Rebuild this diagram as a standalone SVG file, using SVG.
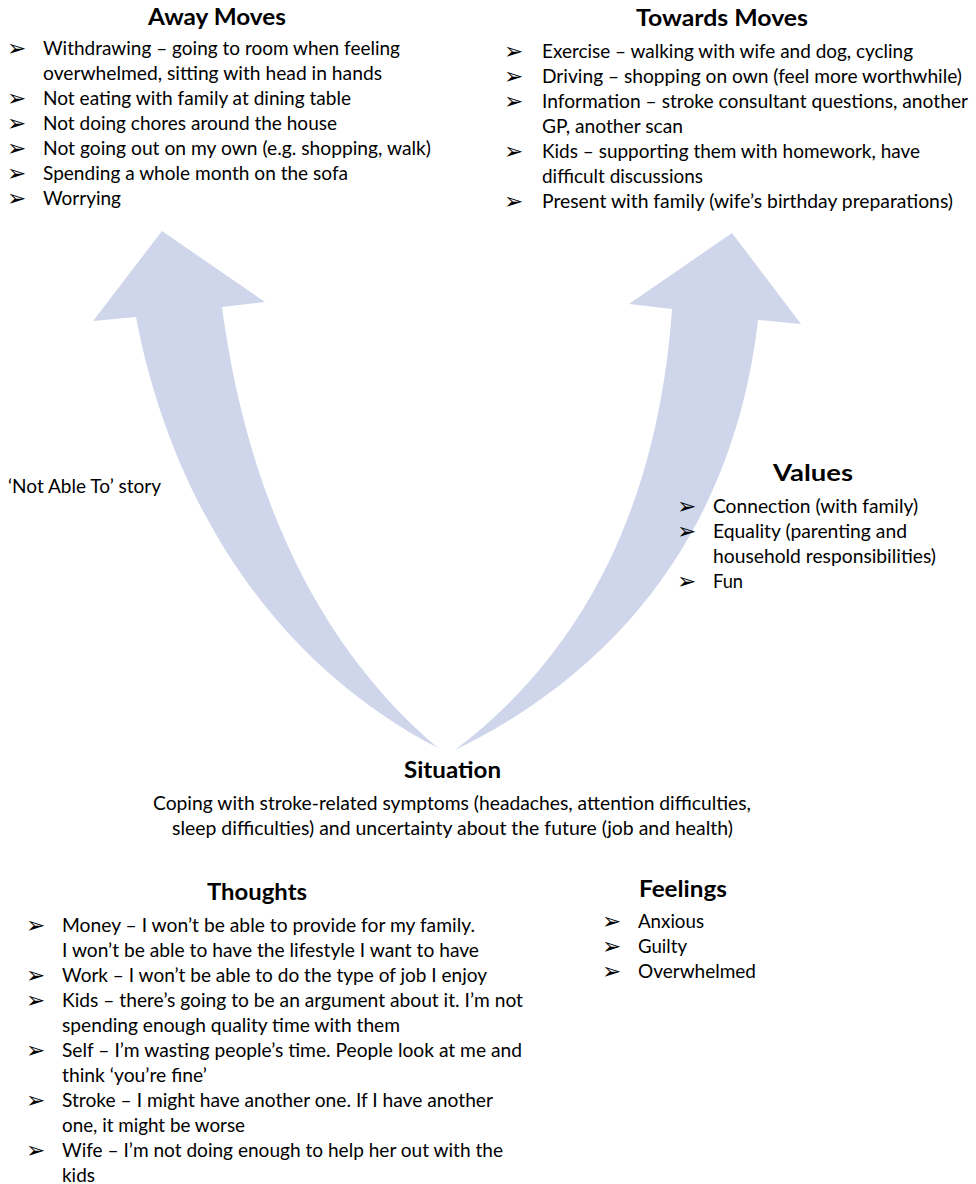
<svg xmlns="http://www.w3.org/2000/svg" width="976" height="1184" viewBox="0 0 976 1184">
<style>
.h{font-family:Lato,"Liberation Sans",sans-serif;font-weight:bold;font-size:22px;fill:#000}
.t{font-family:Lato,"Liberation Sans",sans-serif;font-size:19px;fill:#000}
.b{font-family:"DejaVu Sans",sans-serif;font-size:23px;fill:#000}
.arrow{fill:#cfd6eb;stroke:none}
</style>
<rect width="976" height="1184" fill="#fff"/>
<g id="connectors">
<path class="arrow" d="M438,748 C250,650 165,470 136,317 L93,321 L162,231 L265,302 L222,307 C245,480 310,640 438,748 Z"/>
<path class="arrow" d="M455,750 C660,650 740,480 758,320 L801,324 L732,233 L629,304 L672,309 C660,480 600,640 455,750 Z"/>
</g>
<g id="away-moves">
<text class="h" x="148" y="25" textLength="138" lengthAdjust="spacingAndGlyphs">Away Moves</text>
<text class="b" x="7" y="56">➢</text><text class="t" x="43" y="55" textLength="357" lengthAdjust="spacingAndGlyphs">Withdrawing – going to room when feeling</text>
<text class="t" x="43" y="80" textLength="339" lengthAdjust="spacingAndGlyphs">overwhelmed, sitting with head in hands</text>
<text class="b" x="7" y="106">➢</text><text class="t" x="43" y="105" textLength="308" lengthAdjust="spacingAndGlyphs">Not eating with family at dining table</text>
<text class="b" x="7" y="131">➢</text><text class="t" x="43" y="130" textLength="294" lengthAdjust="spacingAndGlyphs">Not doing chores around the house</text>
<text class="b" x="7" y="156">➢</text><text class="t" x="43" y="155" textLength="388" lengthAdjust="spacingAndGlyphs">Not going out on my own (e.g. shopping, walk)</text>
<text class="b" x="7" y="181">➢</text><text class="t" x="43" y="180" textLength="305" lengthAdjust="spacingAndGlyphs">Spending a whole month on the sofa</text>
<text class="b" x="7" y="206">➢</text><text class="t" x="43" y="205" textLength="78" lengthAdjust="spacingAndGlyphs">Worrying</text>
</g>
<g id="towards-moves">
<text class="h" x="636" y="26" textLength="172" lengthAdjust="spacingAndGlyphs">Towards Moves</text>
<text class="b" x="504" y="59">➢</text><text class="t" x="542" y="58" textLength="371" lengthAdjust="spacingAndGlyphs">Exercise – walking with wife and dog, cycling</text>
<text class="b" x="504" y="84">➢</text><text class="t" x="542" y="83" textLength="420" lengthAdjust="spacingAndGlyphs">Driving – shopping on own (feel more worthwhile)</text>
<text class="b" x="504" y="109">➢</text><text class="t" x="542" y="108" textLength="426" lengthAdjust="spacingAndGlyphs">Information – stroke consultant questions, another</text>
<text class="t" x="542" y="133" textLength="141" lengthAdjust="spacingAndGlyphs">GP, another scan</text>
<text class="b" x="504" y="159">➢</text><text class="t" x="542" y="158" textLength="378" lengthAdjust="spacingAndGlyphs">Kids – supporting them with homework, have</text>
<text class="t" x="542" y="183" textLength="161" lengthAdjust="spacingAndGlyphs">difficult discussions</text>
<text class="b" x="504" y="209">➢</text><text class="t" x="542" y="208" textLength="411" lengthAdjust="spacingAndGlyphs">Present with family (wife’s birthday preparations)</text>
</g>
<g id="story">
<text class="t" x="8" y="493" textLength="153" lengthAdjust="spacingAndGlyphs">‘Not Able To’ story</text>
</g>
<g id="values">
<text class="h" x="773" y="481" textLength="80" lengthAdjust="spacingAndGlyphs">Values</text>
<text class="b" x="677" y="514">➢</text><text class="t" x="713" y="513" textLength="205" lengthAdjust="spacingAndGlyphs">Connection (with family)</text>
<text class="b" x="677" y="539">➢</text><text class="t" x="713" y="538" textLength="194" lengthAdjust="spacingAndGlyphs">Equality (parenting and</text>
<text class="t" x="713" y="563" textLength="223" lengthAdjust="spacingAndGlyphs">household responsibilities)</text>
<text class="b" x="677" y="589">➢</text><text class="t" x="713" y="588" textLength="30" lengthAdjust="spacingAndGlyphs">Fun</text>
</g>
<g id="situation">
<text class="h" x="404" y="778" textLength="97" lengthAdjust="spacingAndGlyphs">Situation</text>
<text class="t" x="153" y="810" textLength="598" lengthAdjust="spacingAndGlyphs">Coping with stroke-related symptoms (headaches, attention difficulties,</text>
<text class="t" x="172" y="835" textLength="561" lengthAdjust="spacingAndGlyphs">sleep difficulties) and uncertainty about the future (job and health)</text>
</g>
<g id="thoughts">
<text class="h" x="207" y="900" textLength="100" lengthAdjust="spacingAndGlyphs">Thoughts</text>
<text class="b" x="26" y="933">➢</text><text class="t" x="62" y="932" textLength="413" lengthAdjust="spacingAndGlyphs">Money – I won’t be able to provide for my family.</text>
<text class="t" x="62" y="957" textLength="417" lengthAdjust="spacingAndGlyphs">I won’t be able to have the lifestyle I want to have</text>
<text class="b" x="26" y="983">➢</text><text class="t" x="62" y="982" textLength="425" lengthAdjust="spacingAndGlyphs">Work – I won’t be able to do the type of job I enjoy</text>
<text class="b" x="26" y="1008">➢</text><text class="t" x="62" y="1007" textLength="461" lengthAdjust="spacingAndGlyphs">Kids – there’s going to be an argument about it. I’m not</text>
<text class="t" x="62" y="1032" textLength="338" lengthAdjust="spacingAndGlyphs">spending enough quality time with them</text>
<text class="b" x="26" y="1058">➢</text><text class="t" x="62" y="1057" textLength="460" lengthAdjust="spacingAndGlyphs">Self – I’m wasting people’s time. People look at me and</text>
<text class="t" x="62" y="1082" textLength="145" lengthAdjust="spacingAndGlyphs">think ‘you’re fine’</text>
<text class="b" x="26" y="1108">➢</text><text class="t" x="62" y="1107" textLength="431" lengthAdjust="spacingAndGlyphs">Stroke – I might have another one. If I have another</text>
<text class="t" x="62" y="1132" textLength="183" lengthAdjust="spacingAndGlyphs">one, it might be worse</text>
<text class="b" x="26" y="1158">➢</text><text class="t" x="62" y="1157" textLength="441" lengthAdjust="spacingAndGlyphs">Wife – I’m not doing enough to help her out with the</text>
<text class="t" x="62" y="1182" textLength="33" lengthAdjust="spacingAndGlyphs">kids</text>
</g>
<g id="feelings">
<text class="h" x="639" y="897" textLength="88" lengthAdjust="spacingAndGlyphs">Feelings</text>
<text class="b" x="602" y="929">➢</text><text class="t" x="638" y="928" textLength="66" lengthAdjust="spacingAndGlyphs">Anxious</text>
<text class="b" x="602" y="954">➢</text><text class="t" x="638" y="953" textLength="49" lengthAdjust="spacingAndGlyphs">Guilty</text>
<text class="b" x="602" y="979">➢</text><text class="t" x="638" y="978" textLength="118" lengthAdjust="spacingAndGlyphs">Overwhelmed</text>
</g>
</svg>
